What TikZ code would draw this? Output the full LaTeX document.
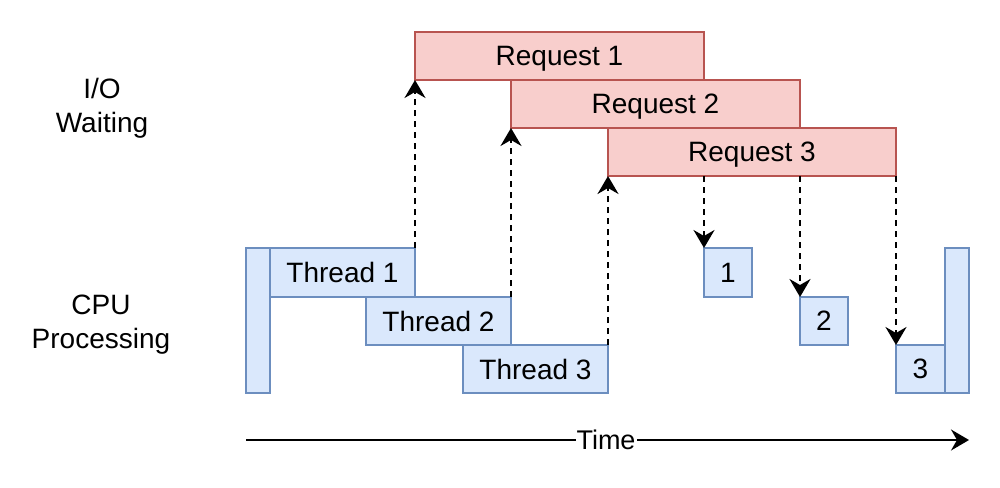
\documentclass[tikz,border=0pt]{standalone}
\usepackage{fontspec}
\setmainfont{Liberation Sans}
\usetikzlibrary{arrows.meta}
\definecolor{bfill}{HTML}{DAE8FC}
\definecolor{bdraw}{HTML}{6C8EBF}
\definecolor{rfill}{HTML}{F8CECC}
\definecolor{rdraw}{HTML}{B85450}
\tikzset{
  cpubox/.style={draw=bdraw, fill=bfill, line width=2pt, inner sep=0pt, outer sep=0pt, text depth=0pt, anchor=north west, font=\fontsize{28}{34}\selectfont},
  iobox/.style={draw=rdraw, fill=rfill, line width=2pt, inner sep=0pt, outer sep=0pt, text depth=0pt, anchor=north west, minimum width=289pt, minimum height=48pt, font=\fontsize{28}{34}\selectfont},
  dasharrow/.style={draw=black, line width=2.4pt, dash pattern=on 6pt off 5pt, -{Stealth[length=18pt,width=21pt,inset=6pt]}},
  lbl/.style={align=center, font=\fontsize{28}{34}\selectfont}
}
\begin{document}
\begin{tikzpicture}[x=1pt,y=-1pt]
\useasboundingbox[fill=white] (0,0) rectangle (1000,487);
% CPU boxes
\node[cpubox, minimum width=24pt, minimum height=145pt] (lb) at (246,248) {};
\node[cpubox, minimum width=145pt, minimum height=49pt] (t1) at (270,248) {Thread 1};
\node[cpubox, minimum width=145pt, minimum height=48pt] (t2) at (366,297) {Thread 2};
\node[cpubox, minimum width=145pt, minimum height=48pt] (t3) at (463,345) {Thread 3};
\node[cpubox, minimum width=48pt, minimum height=49pt] (b1) at (704,248) {1};
\node[cpubox, minimum width=48pt, minimum height=48pt] (b2) at (800,297) {2};
\node[cpubox, minimum width=49pt, minimum height=48pt] (b3) at (896,345) {3};
\node[cpubox, minimum width=24pt, minimum height=145pt] (rb) at (945,248) {};
% IO boxes
\node[iobox] (r1) at (415,32) {Request 1};
\node[iobox] (r2) at (511,80) {Request 2};
\node[iobox, minimum width=288pt] (r3) at (608,128) {Request 3};
% arrows
\draw[dasharrow] (t1.north east) -- (r1.south west);
\draw[dasharrow] (t2.north east) -- (r2.south west);
\draw[dasharrow] (t3.north east) -- (r3.south west);
\draw[dasharrow] (r1.east |- r3.south) -- (b1.north west);
\draw[dasharrow] (r2.east |- r3.south) -- (b2.north west);
\draw[dasharrow] (r3.south east) -- (b3.north west);
% labels
\node[lbl] (io) at (102,108) {I/O\\Waiting};
\node[lbl] (cpu) at (101,325) {CPU\\Processing};
% time
\coordinate (ts) at (246,440);
\coordinate (te) at (969,440);
\draw[line width=2pt, -{Stealth[length=18pt,width=21pt,inset=6pt]}] (ts) -- (te);
\node[fill=white, inner sep=1pt, font=\fontsize{27}{30}\selectfont] (time) at (606,440) {Time};
\end{tikzpicture}
\end{document}
